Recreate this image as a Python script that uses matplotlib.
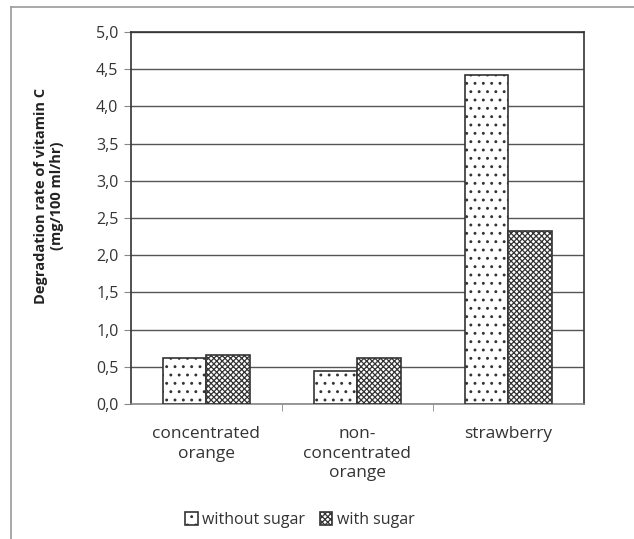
import numpy as np
import matplotlib
matplotlib.use('Agg')
import matplotlib.pyplot as plt
from matplotlib.ticker import FuncFormatter
from matplotlib.lines import Line2D

# data
categories = ['concentrated\norange', 'non-\nconcentrated\norange', 'strawberry']
without_sugar = [0.62, 0.45, 4.42]
with_sugar = [0.66, 0.62, 2.32]

plt.rcParams['font.family'] = ['Open Sans', 'DejaVu Sans']
plt.rcParams['hatch.linewidth'] = 0.9

fig = plt.figure(figsize=(6.34, 5.39), dpi=100)
ax = fig.add_axes([0.2066, 0.2505, 0.7145, 0.690])

x = np.arange(len(categories))
w = 0.29
ax.bar(x - w / 2, without_sugar, w, color='white', edgecolor='#333333',
       hatch='..', linewidth=1.2, label='without sugar', zorder=3)
ax.bar(x + w / 2, with_sugar, w, color='white', edgecolor='#333333',
       hatch='xxxxxx', linewidth=1.2, label='with sugar', zorder=3)

ax.set_xlim(-0.5, 2.5)
ax.set_ylim(0, 5)
ax.set_yticks(np.arange(0, 5.01, 0.5))
ax.yaxis.set_major_formatter(FuncFormatter(lambda v, p: f'{v:.1f}'.replace('.', ',')))
ax.yaxis.grid(True, color='#555555', linewidth=1.0, zorder=0)

ax.set_xticks(x)
ax.set_xticklabels(categories, fontsize=12.5, color='#333333', linespacing=1.3)
ax.set_xticks([0.5, 1.5], minor=True)
ax.tick_params(axis='x', which='major', length=0, pad=16)
ax.tick_params(axis='x', which='minor', length=5, color='#888888')
ax.tick_params(axis='y', length=5, color='#888888', labelsize=11.5, labelcolor='#333333', pad=4)

for s in ['left', 'top', 'right']:
    ax.spines[s].set_color('#333333')
    ax.spines[s].set_linewidth(1.2)
ax.spines['bottom'].set_color('#888888')
ax.spines['bottom'].set_linewidth(1.2)

ax.set_ylabel('Degradation rate of vitamin C\n(mg/100 ml/hr)', fontsize=10.5,
              fontweight='bold', color='#222222', linespacing=1.2)
ax.yaxis.set_label_coords(-0.148, 0.559)

ax.legend(loc='center', bbox_to_anchor=(0.473, 0.035), bbox_transform=fig.transFigure,
          ncol=2, frameon=False, fontsize=11.5, handlelength=0.8, handleheight=0.8,
          handletextpad=0.3, columnspacing=0.9, labelcolor='#333333')

# outer chart frame (only left and top visible in the reference)
fig.add_artist(Line2D([0.0175, 0.0175], [0, 0.987], transform=fig.transFigure,
                      color='#999999', linewidth=1.2))
fig.add_artist(Line2D([0.0175, 1.0], [0.987, 0.987], transform=fig.transFigure,
                      color='#999999', linewidth=1.2))

fig.savefig('out.png', dpi=100)
